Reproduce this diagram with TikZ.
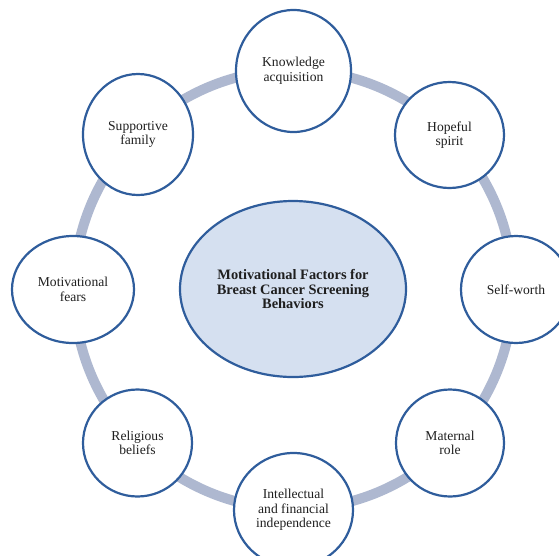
\documentclass[tikz,border=0pt]{standalone}
\usepackage{fontspec}
\setmainfont{Liberation Serif}
\usetikzlibrary{shapes.geometric}

\definecolor{ringblue}{HTML}{AEB8D0}
\definecolor{edgeblue}{HTML}{2F5D9C}
\definecolor{hubfill}{HTML}{D5E0F0}

\tikzset{
  factor/.style={ellipse, draw=edgeblue, line width=2.2pt, fill=white,
    align=center, inner sep=0pt, text=black!88,
    font=\fontsize{13.6}{14.6}\selectfont},
  hub/.style={factor, fill=hubfill, font=\fontsize{14.4}{14.4}\selectfont\bfseries},
  ring/.style={draw=ringblue, line width=10pt}
}

\begin{document}
\begin{tikzpicture}[x=1pt, y=-1pt]
\useasboundingbox (0,0) rectangle (559,555);

% ring behind the factors
\coordinate (mid) at (293.5,289.5);
\draw [ring] (mid) circle (219.5);

\node [hub, minimum width=226, minimum height=176] (hub) at (293,289)
  {Motivational Factors for\\Breast Cancer Screening\\Behaviors};

\node [factor, minimum width=115, minimum height=122] (know) at (293.5,71) {Knowledge\\acquisition};
\node [factor, minimum width=109, minimum height=106] (hope) at (449.5,135) {Hopeful\\spirit};
\node [factor, minimum width=110, minimum height=107] (self) at (516,289.5) {Self-worth};
\node [factor, minimum width=108, minimum height=107] (mother) at (450,443) {Maternal\\role};
\node [factor, minimum width=119, minimum height=114] (indep) at (293.5,510) {Intellectual\\and financial\\independence};
\node [factor, minimum width=109, minimum height=107] (faith) at (137.5,443) {Religious\\beliefs};
\node [factor, minimum width=122, minimum height=107] (fears) at (73,289.5) {Motivational\\fears};
\node [factor, minimum width=110, minimum height=121] (family) at (138,134.5) {Supportive\\family};
\end{tikzpicture}
\end{document}
